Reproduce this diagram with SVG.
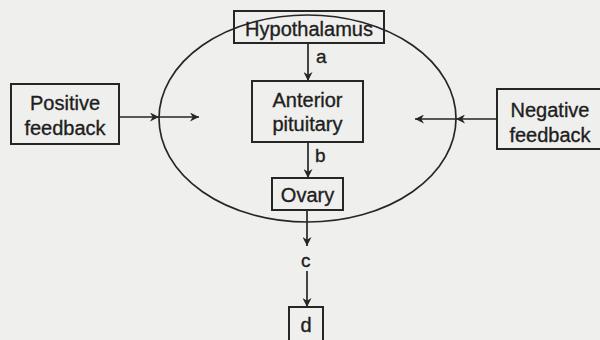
<svg xmlns="http://www.w3.org/2000/svg" width="600" height="340" viewBox="0 0 600 340">
  <defs>
    <marker id="ah" viewBox="0 0 10 10" refX="10" refY="5" markerWidth="9" markerHeight="9" markerUnits="userSpaceOnUse" orient="auto">
      <path d="M0,0 L10,5 L0,10 L3,5 Z" fill="#262626"/>
    </marker>
  </defs>
  <style>
    .box { fill: none; stroke: #262626; stroke-width: 2; }
    .line { fill: none; stroke: #262626; stroke-width: 1.7; }
    .t { font-family: "Liberation Sans", Arial, sans-serif; font-size: 20px; fill: #1e1e1e; stroke: #1e1e1e; stroke-width: 0.35; text-anchor: middle; }
    .lbl { font-family: "Liberation Sans", Arial, sans-serif; font-size: 19px; fill: #1e1e1e; stroke: #1e1e1e; stroke-width: 0.35; }
  </style>
  <rect width="600" height="340" fill="#efefed"/>

  <g id="loop">
    <ellipse cx="307.5" cy="118.5" rx="148.5" ry="103.5" class="line"/>
  </g>

  <g id="connectors">
    <line x1="308" y1="43" x2="308" y2="81" class="line" marker-end="url(#ah)"/>
    <text x="316" y="63" class="lbl">a</text>
    <line x1="308" y1="142" x2="308" y2="178" class="line" marker-end="url(#ah)"/>
    <text x="315" y="162" class="lbl">b</text>
    <line x1="307" y1="210" x2="307" y2="246" class="line" marker-end="url(#ah)"/>
    <text x="301" y="267" class="lbl">c</text>
    <line x1="307" y1="271" x2="307" y2="307" class="line" marker-end="url(#ah)"/>
    <line x1="119" y1="117" x2="159" y2="117" class="line" marker-end="url(#ah)"/>
    <line x1="159" y1="117" x2="199" y2="117" class="line" marker-end="url(#ah)"/>
    <line x1="497" y1="119" x2="456" y2="119" class="line" marker-end="url(#ah)"/>
    <line x1="456" y1="119" x2="415" y2="119" class="line" marker-end="url(#ah)"/>
  </g>

  <g id="hypothalamus">
    <rect x="234" y="11" width="150" height="32" fill="#efefed" class="box"/>
    <text x="309" y="36" class="t">Hypothalamus</text>
  </g>
  <g id="anterior-pituitary">
    <rect x="252" y="81" width="111" height="61" fill="#efefed" class="box"/>
    <text x="307.5" y="107" class="t">Anterior</text>
    <text x="307.5" y="131" class="t">pituitary</text>
  </g>
  <g id="ovary">
    <rect x="272" y="178" width="71" height="32" fill="#efefed" class="box"/>
    <text x="307.5" y="202" class="t">Ovary</text>
  </g>
  <g id="d">
    <rect x="289" y="307" width="34" height="34" fill="#efefed" class="box"/>
    <text x="306" y="332" class="t">d</text>
  </g>
  <g id="positive-feedback">
    <rect x="11" y="84" width="108" height="60" fill="#efefed" class="box"/>
    <text x="65" y="110" class="t">Positive</text>
    <text x="65" y="135" class="t">feedback</text>
  </g>
  <g id="negative-feedback">
    <rect x="497" y="89" width="106" height="60" fill="#efefed" class="box"/>
    <text x="550" y="117" class="t">Negative</text>
    <text x="550" y="142" class="t">feedback</text>
  </g>
</svg>
